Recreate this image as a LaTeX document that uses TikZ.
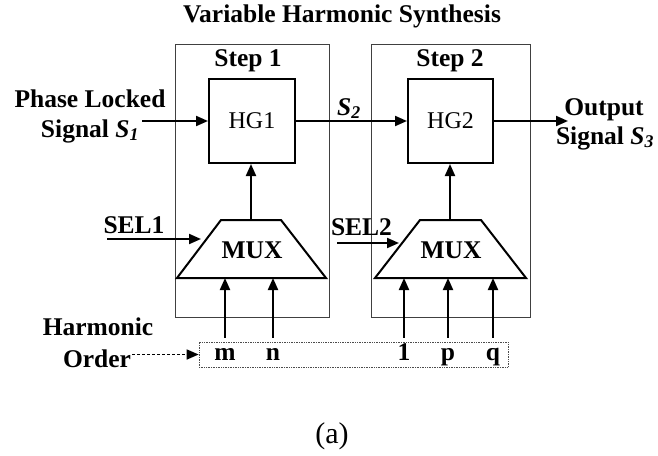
\documentclass[tikz,border=0pt]{standalone}
\usepackage{fontspec}
\setmainfont{Liberation Serif}
\usetikzlibrary{arrows.meta,calc}
\newcommand{\sig}[1]{\textbf{\textit{S}}\textsubscript{\textbf{\textit{#1}}}}
\begin{document}
\begin{tikzpicture}[x=1pt,y=-1pt,
  lbl/.style={font=\fontsize{25.5}{30}\selectfont\bfseries, inner sep=0pt, anchor=base},
  hgtxt/.style={font=\fontsize{24}{28}\selectfont},
  stepbox/.style={draw=black!75, line width=0.9pt, inner sep=0pt},
  hgbox/.style={draw, line width=2pt, inner sep=0pt},
  arr/.style={line width=2pt, -{Triangle[length=12pt,width=10pt]}},
  darr/.style={line width=1.6pt, dash pattern=on 3pt off 2pt, -{Triangle[length=12pt,width=10pt]}},
  muxline/.style={line width=2pt, line join=miter},
]
\useasboundingbox (0,0) rectangle (658,455);

% title
\node[lbl] (title) at (342,22) {Variable Harmonic Synthesis};

% step boxes
\node[stepbox, minimum width=154pt, minimum height=273pt] (st1) at (252,180.5) {};
\node[stepbox, minimum width=159pt, minimum height=273pt] (st2) at (450.5,180.5) {};
\node[lbl] (st1l) at (248,66) {Step 1};
\node[lbl] (st2l) at (450,66) {Step 2};

% HG boxes
\node[hgbox, minimum width=86pt, minimum height=84pt] (hg1) at (252,121) {};
\node[hgbox, minimum width=85pt, minimum height=84pt] (hg2) at (450.5,121) {};
\node[hgtxt, inner sep=0pt, anchor=base] (hg1t) at (252,128) {HG1};
\node[hgtxt, inner sep=0pt, anchor=base] (hg2t) at (450.5,128) {HG2};

% MUX trapezoids
\coordinate (m1bl) at (177,278); \coordinate (m1br) at (326,278);
\coordinate (m1tr) at (281,220); \coordinate (m1tl) at (221,220);
\coordinate (m2bl) at (375,278); \coordinate (m2br) at (526,278);
\coordinate (m2tr) at (481,220); \coordinate (m2tl) at (420,220);
\draw[muxline] (m1bl) -- (m1br) -- (m1tr) -- (m1tl) -- cycle;
\draw[muxline] (m2bl) -- (m2br) -- (m2tr) -- (m2tl) -- cycle;
\node[lbl] (mux1) at (252,258) {MUX};
\node[lbl] (mux2) at (451,258) {MUX};
\coordinate (m1top) at (251,220);
\coordinate (m2top) at (450,220);

% MUX to HG
\draw[arr] (m1top) -- (hg1.south -| m1top);
\draw[arr] (m2top) -- (hg2.south -| m2top);

% input signal
\node[lbl] (pl) at (90,107) {Phase Locked};
\node[lbl] (s1) at (90,137) {Signal \sig{1}};
\coordinate (inst) at (142,121);
\draw[arr] (inst) -- (hg1.west);

% S2
\draw[arr] (hg1.east) -- (hg2.west);
\node[lbl] (s2) at (349,115) {\sig{2}};

% output
\node[lbl] (out1) at (604,115) {Output};
\node[lbl] (out2) at (605,144) {Signal \sig{3}};
\coordinate (outend) at (568,121);
\draw[arr] (hg2.east) -- (outend);

% SEL
\node[lbl] (sel1) at (134,233) {SEL1};
\node[lbl] (sel2) at (361.5,235) {SEL2};
\coordinate (s1a) at (107,239); \coordinate (s1b) at (201,239);
\coordinate (s2a) at (337,243); \coordinate (s2b) at (399,243);
\draw[arr] (s1a) -- (s1b);
\draw[arr] (s2a) -- (s2b);

% harmonic order
\node[draw=black!70, densely dotted, line width=0.7pt, minimum width=309pt, minimum height=25pt, inner sep=0pt] (ho) at (353.5,354.5) {};
\node[lbl] (hm) at (98,335) {Harmonic};
\node[lbl] (ord) at (97,367) {Order};
\coordinate (hoa) at (132,354.5);
\draw[darr] (hoa) -- (ho.west);

\node[lbl] (lm) at (225,360) {m};
\node[lbl] (ln) at (273,360) {n};
\node[lbl] (l1) at (404,360) {1};
\node[lbl] (lp) at (448,360) {p};
\node[lbl] (lq) at (493,360) {q};

\draw[arr] ($(lm |- ho.north)+(0,-4)$) -- (lm |- m1bl);
\draw[arr] ($(ln |- ho.north)+(0,-4)$) -- (ln |- m1bl);
\draw[arr] ($(l1 |- ho.north)+(0,-4)$) -- (l1 |- m2bl);
\draw[arr] ($(lp |- ho.north)+(0,-4)$) -- (lp |- m2bl);
\draw[arr] ($(lq |- ho.north)+(0,-4)$) -- (lq |- m2bl);

% caption
\node[font=\fontsize{30}{34}\selectfont, inner sep=0pt, anchor=base] (cap) at (332,443) {(a)};
\end{tikzpicture}
\end{document}
